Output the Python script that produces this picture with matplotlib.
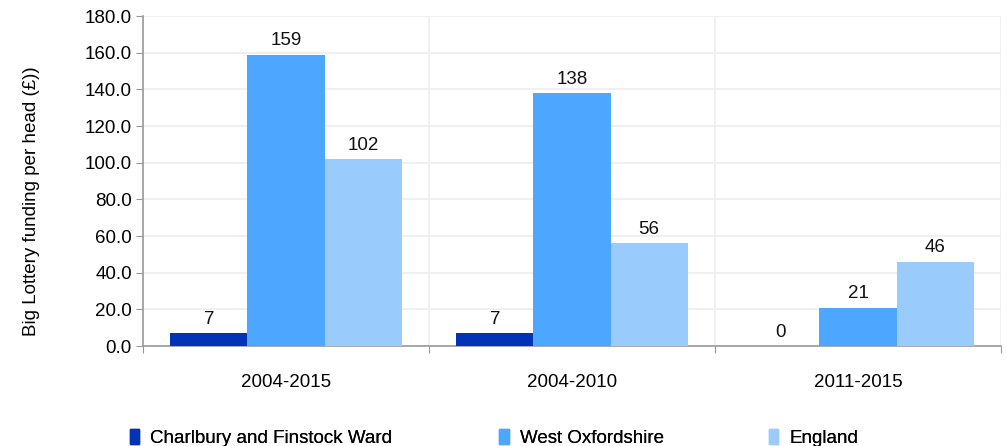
import numpy as np
import matplotlib.pyplot as plt
from matplotlib.patches import Patch

# Data
periods = ["2004-2015", "2004-2010", "2011-2015"]
series_names = ["Charlbury and Finstock Ward", "West Oxfordshire", "England"]
charlbury = [7, 7, 0]
west_oxon = [159, 138, 21]
england = [102, 56, 46]
colors = ["#0033b8", "#4da6ff", "#99cbfd"]

plt.rcParams["font.family"] = ["Liberation Sans", "DejaVu Sans"]
plt.rcParams["font.size"] = 13.5

fig = plt.figure(figsize=(10.07, 4.46), dpi=100)
ax = fig.add_axes([0.142, 0.224, 0.852, 0.740])

x = np.arange(len(periods))
width = 0.27
for i, (vals, col) in enumerate(zip([charlbury, west_oxon, england], colors)):
    pos = x + (i - 1) * width
    ax.bar(pos, vals, width, color=col, zorder=3)
    for p, v in zip(pos, vals):
        ax.text(p, v + 3, "{:d}".format(v), ha="center", va="bottom", color="#111111")

ax.set_xlim(-0.5, len(periods) - 0.5)
ax.set_ylim(0, 180)
ax.set_yticks(np.arange(0, 181, 20))
ax.set_yticklabels(["{:.1f}".format(t) for t in np.arange(0, 181, 20)])
ax.set_ylabel("Big Lottery funding per head (\u00a3))")
ax.yaxis.set_label_coords(-0.12, 0.44)

# group boundaries as major ticks, category names as minor ticks
ax.set_xticks(np.arange(-0.5, len(periods), 1.0))
ax.set_xticklabels([])
ax.set_xticks(x, minor=True)
ax.set_xticklabels(periods, minor=True)
ax.tick_params(axis="x", which="minor", length=0, pad=20)
ax.tick_params(axis="x", which="major", length=5, color="#999999", direction="out")
ax.tick_params(axis="y", length=5, color="#999999", pad=3)

ax.grid(True, which="major", color="#eeeeee", linewidth=1.2, zorder=0)
for s in ["top", "right"]:
    ax.spines[s].set_visible(False)
for s in ["left", "bottom"]:
    ax.spines[s].set_color("#999999")
    ax.spines[s].set_linewidth(1.2)

# one legend entry per series, placed along the bottom
legend_x = [0.112, 0.479, 0.747]
for c, n, lx in zip(colors, series_names, legend_x):
    lg = fig.legend(handles=[Patch(color=c, label=n)], loc="lower left",
                    bbox_to_anchor=(lx, -0.039), frameon=False,
                    handlelength=0.5, handleheight=0.85, handletextpad=0.6)
    fig.add_artist(lg)

plt.savefig("out.png", dpi=100)
